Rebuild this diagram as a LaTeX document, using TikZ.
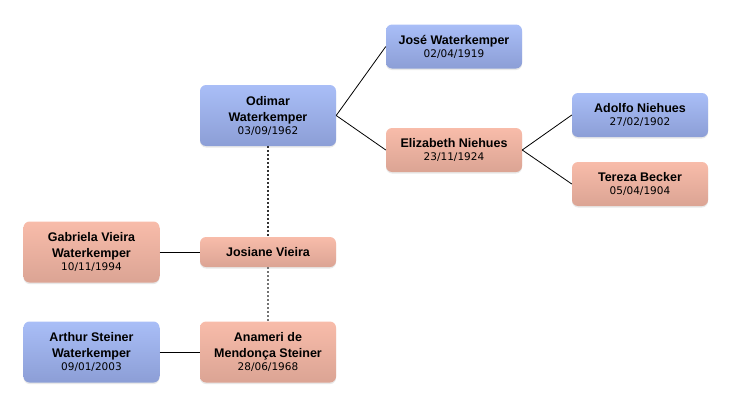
\documentclass[tikz,border=0pt]{standalone}
\usepackage{fontspec}
\setmainfont{Liberation Sans}
\newfontfamily\namefont{Liberation Sans}
\newfontfamily\datefont{DejaVu Sans}
\usetikzlibrary{shadows}
\definecolor{bluetop}{HTML}{A9BEF7}
\definecolor{bluebot}{HTML}{8C9ED6}
\definecolor{pinktop}{HTML}{F8BCAA}
\definecolor{pinkbot}{HTML}{DBA494}
\newcommand{\dt}[1]{{\datefont\mdseries\fontsize{10.5}{16}\selectfont #1}}
\tikzset{
  person/.style={rectangle, rounded corners=6pt, minimum width=136pt, inner sep=0pt,
    align=center, font=\namefont\bfseries\fontsize{12.5}{16}\selectfont,
    drop shadow={opacity=0.18, shadow xshift=0pt, shadow yshift=-1.5pt}},
  male/.style={person, top color=bluetop, bottom color=bluebot},
  female/.style={person, top color=pinktop, bottom color=pinkbot},
  h44/.style={minimum height=44pt},
  h61/.style={minimum height=61pt},
  h30/.style={minimum height=30pt},
  link/.style={draw=black, line width=0.8pt},
  spouse/.style={draw=black!80, line width=1.6pt, dash pattern=on 2pt off 2pt},
  spouse2/.style={draw=black!55, line width=1.6pt, dash pattern=on 2pt off 2pt},
}
\begin{document}
\begin{tikzpicture}[x=1pt,y=-1pt]
\useasboundingbox (0,0) rectangle (732,407);
\node[male,h44]   (jose)      at (454,46.5)  {José Waterkemper\\[-3pt]\dt{02/04/1919}};
\node[male,h61]   (odimar)    at (268,115.5) {Odimar\\Waterkemper\\[-3pt]\dt{03/09/1962}};
\node[female,h44] (elizabeth) at (454,150)   {Elizabeth Niehues\\[-3pt]\dt{23/11/1924}};
\node[male,h44]   (adolfo)    at (640,115)   {Adolfo Niehues\\[-3pt]\dt{27/02/1902}};
\node[female,h44] (tereza)    at (640,184)   {Tereza Becker\\[-3pt]\dt{05/04/1904}};
\node[female,h61] (gabriela)  at (91.5,252)  {Gabriela Vieira\\Waterkemper\\[-3pt]\dt{10/11/1994}};
\node[female,h30] (josiane)   at (268,252)   {Josiane Vieira};
\node[male,h61]   (arthur)    at (91.5,352)  {Arthur Steiner\\Waterkemper\\[-3pt]\dt{09/01/2003}};
\node[female,h61] (anameri)   at (268,352)   {Anameri de\\Mendonça Steiner\\[-3pt]\dt{28/06/1968}};

\draw[link] (odimar.east) -- (jose.west);
\draw[link] (odimar.east) -- (elizabeth.west);
\draw[link] (elizabeth.east) -- (adolfo.west);
\draw[link] (elizabeth.east) -- (tereza.west);
\draw[link] (gabriela.east) -- (josiane.west);
\draw[link] (arthur.east) -- (anameri.west);
\draw[spouse] (odimar.south) -- (josiane.north);
\draw[spouse2] (josiane.south) -- (anameri.north);
\end{tikzpicture}
\end{document}
